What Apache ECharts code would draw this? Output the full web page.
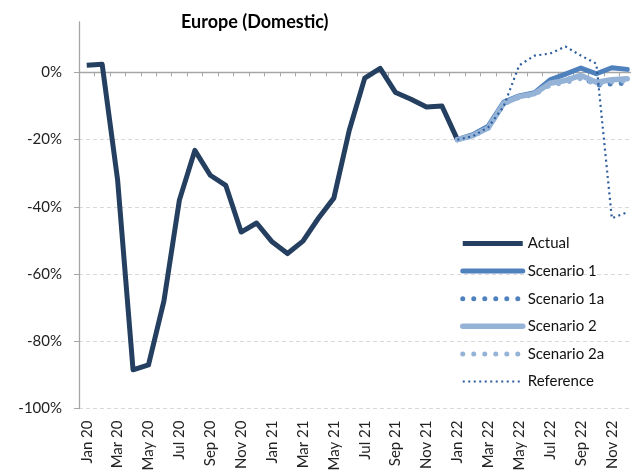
<!DOCTYPE html>
<html>
<head>
<meta charset="utf-8">
<script src="https://cdn.jsdelivr.net/npm/echarts@6/dist/echarts.min.js"></script>
<style>
  html, body { margin: 0; padding: 0; background: #fff; }
  #chart { width: 631px; height: 475px; }
</style>
</head>
<body>
<div id="chart"></div>
<script>
// Monthly categories, Jan 2020 – Dec 2022
const months = [
  'Jan 20','Feb 20','Mar 20','Apr 20','May 20','Jun 20','Jul 20','Aug 20','Sep 20','Oct 20','Nov 20','Dec 20',
  'Jan 21','Feb 21','Mar 21','Apr 21','May 21','Jun 21','Jul 21','Aug 21','Sep 21','Oct 21','Nov 21','Dec 21',
  'Jan 22','Feb 22','Mar 22','Apr 22','May 22','Jun 22','Jul 22','Aug 22','Sep 22','Oct 22','Nov 22','Dec 22'
];

// Values in percent (change vs. baseline)
const actual = [
  2.1, 2.4, -32.0, -88.5, -87.0, -68.0, -38.0, -23.2, -30.6, -33.6, -47.5, -44.8,
  -50.4, -53.9, -50.2, -43.4, -37.4, -17.2, -1.7, 1.2, -6.0, -8.0, -10.3, -10.0,
  -20.0, null, null, null, null, null, null, null, null, null, null, null
];
const scenario1 = [
  null, null, null, null, null, null, null, null, null, null, null, null,
  null, null, null, null, null, null, null, null, null, null, null, null,
  -20.0, -18.5, -16.0, -8.8, -7.0, -6.0, -2.2, -0.5, 1.3, -0.4, 1.4, 0.9
];
const scenario1a = [
  null, null, null, null, null, null, null, null, null, null, null, null,
  null, null, null, null, null, null, null, null, null, null, null, null,
  -20.0, -18.6, -16.2, -9.0, -7.1, -6.2, -3.4, -2.2, -1.2, -3.8, -3.4, -3.2
];
const scenario2 = [
  null, null, null, null, null, null, null, null, null, null, null, null,
  null, null, null, null, null, null, null, null, null, null, null, null,
  -20.0, -18.8, -16.5, -9.2, -7.2, -6.3, -3.2, -2.4, -0.9, -2.9, -2.2, -1.9
];
const scenario2a = [
  null, null, null, null, null, null, null, null, null, null, null, null,
  null, null, null, null, null, null, null, null, null, null, null, null,
  -20.0, -18.9, -16.6, -9.4, -7.4, -6.6, -3.8, -3.0, -1.8, -3.5, -2.8, -2.5
];
const reference = [
  null, null, null, null, null, null, null, null, null, null, null, null,
  null, null, null, null, null, null, null, null, null, null, null, null,
  -20.0, -19.0, -16.3, -10.1, 2.1, 5.0, 5.6, 7.7, 5.0, 2.6, -43.4, -41.6
];

// Y-axis tick values (percent)
const yTicks = [-100, -80, -60, -40, -20, 0];

const FONT = 'Lato, "Liberation Sans", sans-serif';
const AXIS_GREY = '#a6a6a6';

// Line styles per series, shared by the plot and the legend
const styles = {
  'Actual':      { color: '#243f60', width: 5,   type: 'solid',    cap: 'butt'  },
  'Scenario 1':  { color: '#4f81bd', width: 5,   type: 'solid',    cap: 'round' },
  'Scenario 1a': { color: '#4f81bd', width: 5,   type: [0.01, 11], cap: 'round' },
  'Scenario 2':  { color: '#95b3d7', width: 5.5, type: 'solid',    cap: 'round' },
  'Scenario 2a': { color: '#95b3d7', width: 5,   type: [0.01, 11], cap: 'round' },
  'Reference':   { color: '#2e5d9e', width: 2.2, type: [2, 3.5],   cap: 'butt'  }
};

const chart = echarts.init(document.getElementById('chart'), null, { renderer: 'canvas' });

function lineSeries(name, data, z) {
  const s = styles[name];
  return {
    name: name,
    type: 'line',
    data: data,
    xAxisIndex: 0,
    symbol: 'none',
    connectNulls: false,
    z: z,
    lineStyle: { color: s.color, width: s.width, type: s.type, cap: s.cap, join: 'round' },
    itemStyle: { color: s.color },
    emphasis: { disabled: true }
  };
}

const legendNames = ['Actual', 'Scenario 1', 'Scenario 1a', 'Scenario 2', 'Scenario 2a', 'Reference'];

chart.setOption({
  animation: false,
  backgroundColor: '#ffffff',
  title: {
    text: 'Europe (Domestic)',
    left: 176,
    top: 8,
    textStyle: { fontFamily: FONT, fontSize: 18, fontWeight: 'bold', color: '#000' }
  },
  grid: {
    left: 79,
    right: -4,
    top: 22,
    bottom: 66.5,
    containLabel: false,
    outerBoundsMode: 'none'
  },
  legend: {
    orient: 'vertical',
    left: 455,
    top: 231,
    itemWidth: 60,
    itemHeight: 14,
    itemGap: 12.6,
    selectedMode: false,
    textStyle: { fontFamily: FONT, fontSize: 15, color: '#111' },
    data: legendNames.map(function (n) {
      const s = styles[n];
      return {
        name: n,
        itemStyle: { opacity: 0 },
        lineStyle: { color: s.color, width: s.width, type: s.type, cap: s.cap, opacity: 1 }
      };
    })
  },
  xAxis: [
    {
      // labels along the bottom
      type: 'category',
      data: months,
      position: 'bottom',
      boundaryGap: true,
      axisLine: { show: false, onZero: false },
      axisTick: { show: false },
      splitLine: { show: false },
      axisLabel: {
        interval: 1,
        rotate: 90,
        margin: 12,
        fontFamily: FONT,
        fontSize: 15,
        color: '#222'
      }
    },
    {
      // horizontal axis line crossing at 0%
      type: 'category',
      data: months,
      position: 'top',
      boundaryGap: true,
      axisLine: { show: true, onZero: true, lineStyle: { color: AXIS_GREY, width: 1.3 } },
      axisTick: { show: true, inside: true, length: 4, interval: 0, lineStyle: { color: AXIS_GREY } },
      axisLabel: { show: false },
      splitLine: { show: false }
    }
  ],
  yAxis: {
    type: 'value',
    min: -100,
    max: 15,
    interval: 20,
    axisLine: { show: true, onZero: false, lineStyle: { color: AXIS_GREY, width: 1.3 } },
    axisTick: { show: true, length: 5, customValues: yTicks, lineStyle: { color: AXIS_GREY } },
    axisLabel: {
      customValues: yTicks,
      formatter: '{value}%',
      margin: 17,
      fontFamily: FONT,
      fontSize: 15,
      color: '#222'
    },
    splitLine: {
      show: true,
      showMaxLine: false,
      lineStyle: { color: '#d9d9d9', type: [4, 3], width: 1 }
    }
  },
  series: [
    lineSeries('Actual', actual, 3),
    lineSeries('Scenario 1', scenario1, 4),
    lineSeries('Scenario 1a', scenario1a, 5),
    lineSeries('Scenario 2', scenario2, 6),
    lineSeries('Scenario 2a', scenario2a, 7),
    lineSeries('Reference', reference, 8)
  ]
});
</script>
</body>
</html>
